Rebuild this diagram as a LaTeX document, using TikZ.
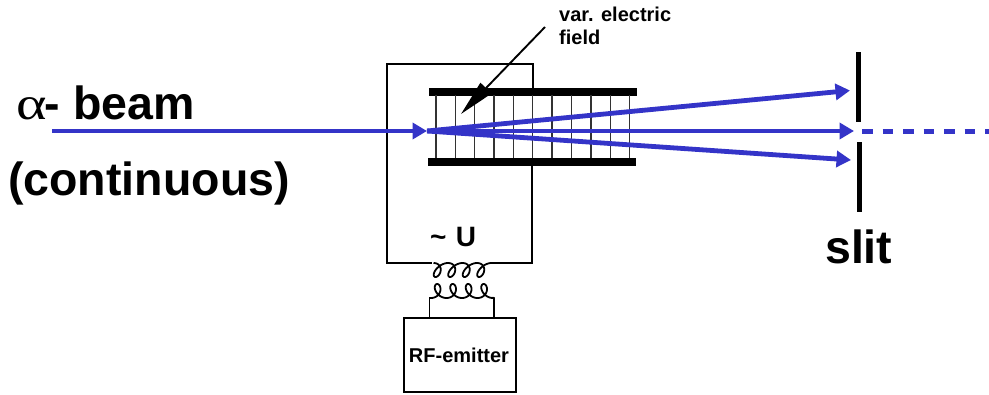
\documentclass[tikz,border=0pt]{standalone}
\usepackage{graphicx}
\usepackage{fontspec}
\setmainfont{Liberation Sans}
\newfontfamily\serifalpha{Liberation Serif}
\usetikzlibrary{arrows.meta}
\definecolor{beamblue}{HTML}{3434C8}
\begin{document}
\begin{tikzpicture}[x=1pt,y=-1pt,
  lab/.style={anchor=base west,inner sep=0pt,font=\bfseries\fontsize{46.5}{46.5}\selectfont},
  small/.style={anchor=base west,inner sep=0pt,font=\bfseries\fontsize{20}{20}\selectfont},
  beam/.style={draw=beamblue,line width=4.8pt,-{Triangle[length=14.5pt,width=16pt]}},
  wire/.style={draw=black,line width=1.7pt},
  plate/.style={draw=none,fill=black},
  fieldline/.style={draw=black!80,line width=1.2pt},
  slitbar/.style={draw=black,line width=5.4pt},
  coil/.style={draw=black,line width=1.8pt}]
\useasboundingbox (0,0) rectangle (989,394);
\fill[white] (0,0) rectangle (989,394);
% coordinates
\coordinate (src) at (52,131);
\coordinate (cross) at (427,131);
\coordinate (tT) at (850,90.5);
\coordinate (tM) at (854,131);
\coordinate (tB) at (851,160);
\coordinate (dS) at (862,131);
\coordinate (dE) at (989,131);
% plates
\node[plate,minimum width=207.5pt,minimum height=7.4pt,inner sep=0pt,anchor=north west] (upper) at (429,88) {};
\node[plate,minimum width=207.5pt,minimum height=7.4pt,inner sep=0pt,anchor=north west] (lower) at (428,158) {};
% field lines
\foreach \x in {436,455.3,474.7,494,513.3,532.7,552,571.7,591,610.3,629.3}
  \draw[fieldline] (\x,95) -- (\x,158);
% circuit
\coordinate (cL) at (432,263);
\coordinate (cR) at (491,263);
\coordinate (upR) at (533,88);
\coordinate (loR) at (532,165);
\draw[wire] (upR) -- (533,64) -- (387,64) -- (387,263) -- (cL);
\draw[wire] (loR) -- (532,263) -- (cR);
% coils
\draw[coil] plot[domain=0:1440,samples=240,variable=\t]
  ({433.5+\t/360*14.5+6.2*sin(\t)+2.6*cos(\t)-2.6},{270-7*cos(\t)});
\draw[coil] plot[domain=0:1440,samples=240,variable=\t]
  ({431+\t/360*15.5+6.2*sin(\t)+0.8*cos(\t)-0.8},{291+7*cos(\t)});
% RF emitter
\node[draw=black,line width=1.7pt,minimum width=112pt,minimum height=74pt,inner sep=0pt,anchor=north west] (rf) at (403,317) {};
\node[small,anchor=base] (rflab) at (459,362) {RF-emitter};
\coordinate (lL) at (429.5,298);
\coordinate (lR) at (494,298);
\draw[wire] (rf.north west -| lL) -- (lL) -- ++(1.5,0);
\draw[wire] (rf.north west -| lR) -- (lR) -- ++(-1.5,-0.5);
% beams
\draw[beam] (src) -- (cross);
\draw[beam] (cross) -- (tT);
\draw[beam] (cross) -- (tM);
\draw[beam] (cross) -- (tB);
\draw[draw=beamblue,line width=5pt,dash pattern=on 10.5pt off 10pt] (dS) -- (dE);
% slit
\coordinate (s1) at (858.5,52); \coordinate (s2) at (858.5,122);
\coordinate (s3) at (859.5,142); \coordinate (s4) at (859.5,212);
\draw[slitbar] (s1) -- (s2);
\draw[slitbar] (s3) -- (s4);
% field arrow
\coordinate (fS) at (545,27);
\coordinate (fT) at (461,114);
\draw[draw=black,line width=1.9pt,-{Triangle[length=36pt,width=15pt]}] (fS) -- (fT);
% labels
\node[lab] (alpha) at (16,119) {{\serifalpha\mdseries\scalebox{1.25}[1]{α}}\kern-2pt- beam};
\node[lab] (cont) at (8,195) {(continuous)};
\node[lab] (slit) at (825,263) {slit};
\node[small,font=\bfseries\fontsize{28}{28}\selectfont] (u) at (430,246) {\char`\~\kern1.5pt\ U};
\node[small] (var) at (559,21) {var. electric};
\node[small] (fld) at (559,44) {field};
\end{tikzpicture}
\end{document}
